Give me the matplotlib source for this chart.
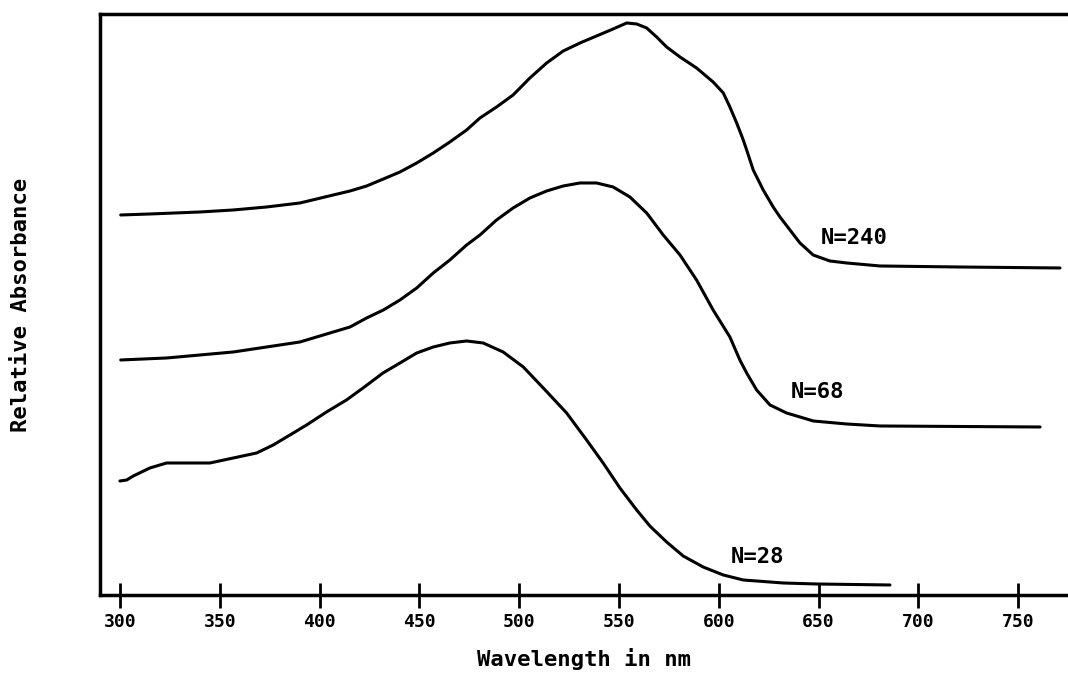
import matplotlib
matplotlib.use("Agg")
import matplotlib.pyplot as plt

# N=240
wl_240 = [300.4, 315.0, 340.1, 356.8, 373.5, 390.2, 406.9, 415.3, 423.6, 432.0, 440.3, 448.7, 457.0,
          465.3, 473.7, 480.4, 488.7, 497.0, 505.4, 513.8, 522.1, 530.5, 538.8, 547.1, 553.9, 558.9,
          563.9, 568.9, 573.9, 580.6, 588.9, 597.2, 602.3, 605.6, 609.0, 612.3, 614.0, 617.3, 622.3,
          627.3, 630.7, 635.7, 640.7, 647.3, 655.7, 664.1, 680.8, 720.0, 771.0]
abs_240 = [3.80, 3.81, 3.83, 3.85, 3.88, 3.92, 4.00, 4.04, 4.09, 4.16, 4.23, 4.32, 4.42,
           4.53, 4.65, 4.77, 4.88, 5.00, 5.17, 5.32, 5.44, 5.52, 5.59, 5.66, 5.72, 5.71,
           5.67, 5.58, 5.48, 5.38, 5.27, 5.13, 5.02, 4.88, 4.72, 4.55, 4.45, 4.25, 4.05,
           3.88, 3.78, 3.65, 3.52, 3.40, 3.34, 3.32, 3.29, 3.28, 3.27]

# N=68
wl_68 = [300.4, 323.4, 340.1, 356.8, 373.5, 390.2, 406.9, 415.3, 423.6, 432.0, 440.3, 448.7, 457.0,
         465.3, 473.7, 480.4, 488.7, 497.0, 505.4, 513.8, 522.1, 530.5, 538.8, 547.1, 555.5, 563.9,
         572.2, 580.6, 588.9, 597.2, 605.6, 610.6, 614.0, 619.0, 625.7, 634.0, 642.4, 647.4, 664.1,
         680.8, 761.0]
abs_68 = [2.35, 2.37, 2.40, 2.43, 2.48, 2.53, 2.63, 2.68, 2.77, 2.85, 2.95, 3.07, 3.22,
          3.35, 3.50, 3.60, 3.75, 3.87, 3.97, 4.04, 4.09, 4.12, 4.12, 4.08, 3.98, 3.82,
          3.60, 3.40, 3.15, 2.85, 2.58, 2.35, 2.22, 2.05, 1.90, 1.82, 1.77, 1.74, 1.71,
          1.69, 1.68]

# N=28
wl_28 = [300.0, 303.4, 306.7, 315.0, 320.0, 323.4, 331.7, 345.1, 356.8, 368.5, 376.8, 385.2, 393.5,
         403.5, 413.5, 421.8, 431.8, 440.3, 448.7, 457.0, 465.3, 473.7, 482.0, 492.0, 502.1, 512.1,
         523.8, 533.8, 542.1, 550.5, 558.9, 565.5, 573.9, 582.2, 592.2, 602.3, 612.3, 632.3, 649.1,
         685.8]
abs_28 = [1.14, 1.15, 1.19, 1.27, 1.30, 1.32, 1.32, 1.32, 1.37, 1.42, 1.50, 1.60, 1.70,
          1.83, 1.95, 2.07, 2.22, 2.32, 2.42, 2.48, 2.52, 2.54, 2.52, 2.43, 2.28, 2.07,
          1.82, 1.55, 1.32, 1.07, 0.85, 0.69, 0.53, 0.39, 0.28, 0.20, 0.15, 0.12, 0.11,
          0.10]

labels = ["N=240", "N=68", "N=28"]
label_pos = [(651, 3.57), (636, 2.03), (606, 0.38)]
xticks = [300, 350, 400, 450, 500, 550, 600, 650, 700, 750]

font = "DejaVu Sans Mono"

fig = plt.figure(figsize=(10.68, 6.85), dpi=100)
ax = fig.add_axes([0.0936, 0.1314, 0.9064, 0.8482])

for wl, ab in [(wl_240, abs_240), (wl_68, abs_68), (wl_28, abs_28)]:
    ax.plot(wl, ab, color="black", linewidth=2.2, solid_joinstyle="round", solid_capstyle="round")

for lab, (x, y) in zip(labels, label_pos):
    ax.text(x, y, lab, fontsize=16, fontfamily=font, fontweight="bold", va="center", ha="left")

ax.set_xlim(290, 775)
ax.set_ylim(0, 5.81)

ax.spines["right"].set_visible(False)
for s in ["left", "top", "bottom"]:
    ax.spines[s].set_linewidth(2.5)

ax.set_xticks(xticks)
ax.set_xticklabels([str(t) for t in xticks], fontsize=13, fontfamily=font, fontweight="bold")
ax.tick_params(axis="x", direction="inout", length=18, width=2, pad=4)
ax.set_yticks([])

ax.set_xlabel("Wavelength in nm", fontsize=16, fontfamily=font, fontweight="bold", labelpad=12)
ax.set_ylabel("Relative Absorbance", fontsize=16, fontfamily=font, fontweight="bold", labelpad=50)

fig.savefig("out.png", dpi=100)
